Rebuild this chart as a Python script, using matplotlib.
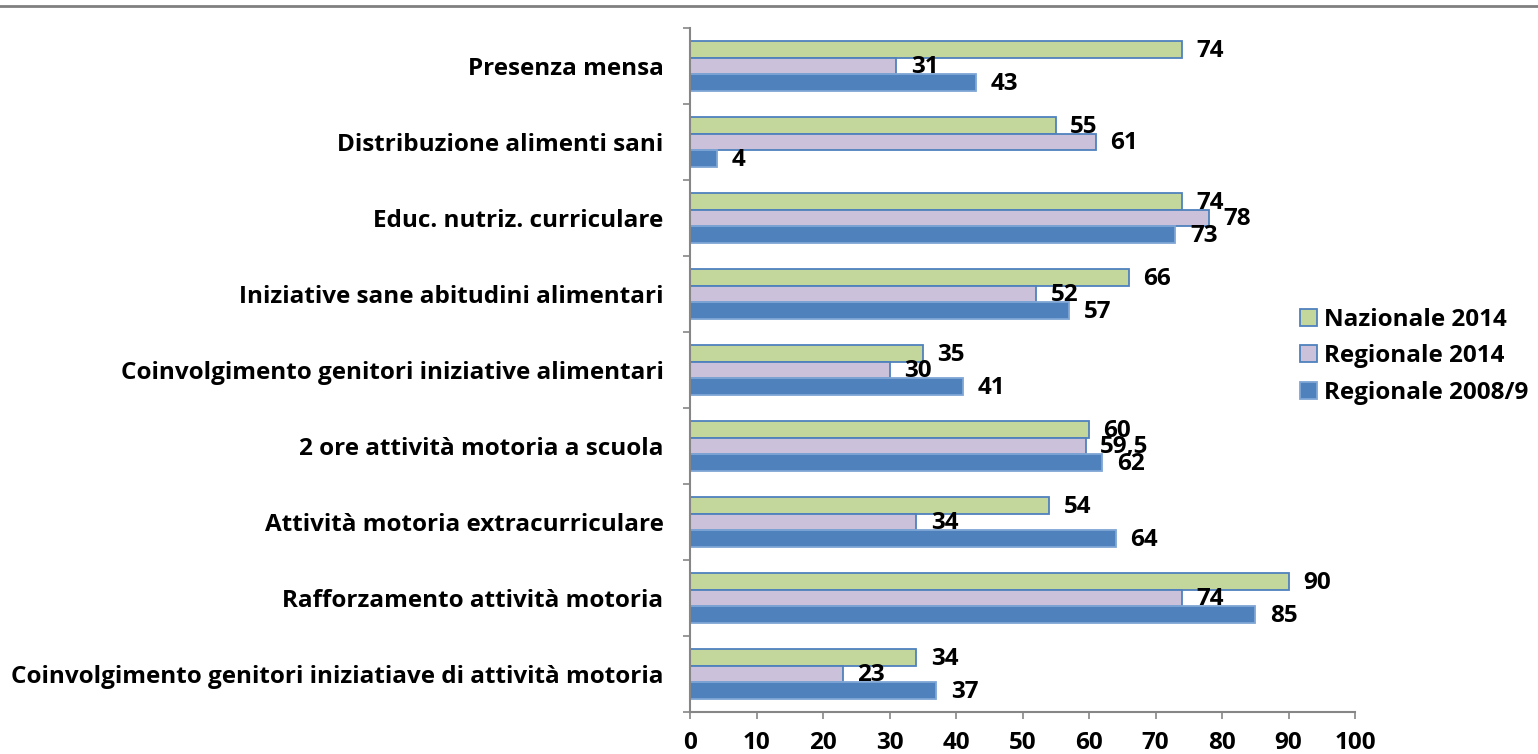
import matplotlib
matplotlib.use("Agg")
import matplotlib.pyplot as plt
import numpy as np
from matplotlib.lines import Line2D

plt.rcParams['font.family'] = ['Open Sans', 'DejaVu Sans']
plt.rcParams['font.weight'] = 'bold'

categories = [
    "Presenza mensa",
    "Distribuzione alimenti sani",
    "Educ. nutriz. curriculare",
    "Iniziative sane abitudini alimentari",
    "Coinvolgimento genitori iniziative alimentari",
    "2 ore attività motoria a scuola",
    "Attività motoria extracurriculare",
    "Rafforzamento attività motoria",
    "Coinvolgimento genitori iniziatiave di attività motoria",
]
nazionale_2014 = [74, 55, 74, 66, 35, 60, 54, 90, 34]
regionale_2014 = [31, 61, 78, 52, 30, 59.5, 34, 74, 23]
regionale_2008 = [43, 4, 73, 57, 41, 62, 64, 85, 37]
series_names = ["Nazionale 2014", "Regionale 2014", "Regionale 2008/9"]
x_ticks = [0, 10, 20, 30, 40, 50, 60, 70, 80, 90, 100]

colors = ['#C3D69B', '#CCC1DA', '#4F81BD']
edges = ['#4F81BD', '#4F81BD', '#7FA6D6']
fs = 17.5

fig = plt.figure(figsize=(15.38, 7.54), dpi=100)
ax = fig.add_axes([690/1538, 1 - 712/754, 665/1538, 684/754])

y = np.arange(len(categories))
h = 0.22
series = [nazionale_2014, regionale_2014, regionale_2008]
for k, vals in enumerate(series):
    pos = y + (k - 1) * h
    ax.barh(pos, vals, height=h, color=colors[k], edgecolor=edges[k],
            linewidth=1.3, label=series_names[k])
    for yy, v in zip(pos, vals):
        txt = ("%g" % v).replace('.', ',')
        ax.annotate(txt, xy=(v, yy), xytext=(10.5, -1), textcoords='offset points',
                    ha='left', va='center', fontsize=fs, fontweight='bold')

ax.set_xlim(0, 100)
ax.set_ylim(len(categories) - 0.5, -0.5)
ax.set_xticks(x_ticks)
ax.set_xticklabels([str(t) for t in x_ticks], fontsize=fs, fontweight='bold')
ax.set_yticks(y)
ax.set_yticklabels(categories, fontsize=fs, fontweight='bold')
ax.set_yticks(np.arange(len(categories) + 1) - 0.5, minor=True)

ax.tick_params(axis='y', which='major', length=0, pad=19)
ax.tick_params(axis='y', which='minor', length=5, width=1.2, color='#868686', direction='out')
ax.tick_params(axis='x', which='major', length=5, width=1.2, color='#868686',
               direction='out', pad=9)

for s in ['top', 'right']:
    ax.spines[s].set_visible(False)
for s in ['left', 'bottom']:
    ax.spines[s].set_color('#868686')
    ax.spines[s].set_linewidth(1.5)

ax.legend(loc='upper left', bbox_to_anchor=(1290/1538, 1 - 298/754),
          bbox_transform=fig.transFigure, frameon=False, fontsize=fs,
          handlelength=0.7, handleheight=0.7, handletextpad=0.3,
          labelspacing=0.52, borderaxespad=0)

fig.add_artist(Line2D([0, 1], [1 - 6/754, 1 - 6/754], transform=fig.transFigure,
                      color='#808080', linewidth=2))

fig.savefig("out.png", dpi=100)
